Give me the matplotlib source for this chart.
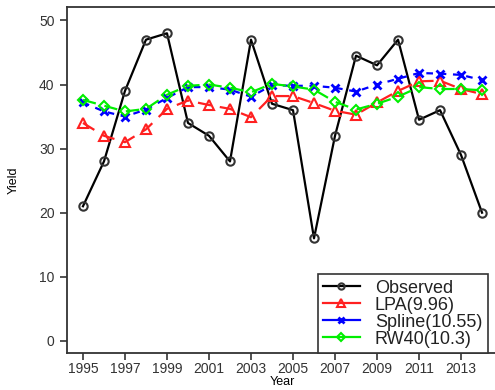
import numpy as np
import matplotlib.pyplot as plt
from matplotlib.lines import Line2D

plt.rcParams['font.family'] = ['Liberation Sans', 'DejaVu Sans']

# --- data ---
years = list(range(1995, 2015))
observed = [21, 28, 39, 47, 48, 34, 32, 28, 47, 37, 36, 16, 32, 44.5, 43, 47, 34.5, 36, 29, 20]
lpa = [34, 32, 31, 33, 36.2, 37.5, 36.8, 36.2, 34.9, 38.2, 38.2, 37.1, 35.9, 35.3, 37.2, 39, 40.5, 40.6, 39.3, 38.5]
spline = [37.2, 35.8, 35.0, 36.1, 37.9, 39.6, 39.6, 39.2, 38.1, 39.9, 39.8, 39.8, 39.5, 38.9, 40.0, 40.9, 41.8, 41.7, 41.5, 40.7]
rw40 = [37.6, 36.7, 35.8, 36.2, 38.4, 39.8, 40.0, 39.5, 38.8, 40.1, 39.7, 39.2, 37.3, 36.1, 37.0, 38.1, 39.6, 39.3, 39.3, 39.1]
labels = ['Observed', 'LPA(9.96)', 'Spline(10.55)', 'RW40(10.3)']
xtick_years = list(range(1995, 2014, 2))
ytick_vals = [0, 10, 20, 30, 40, 50]

W, H = 495, 390
fig = plt.figure(figsize=(W / 100, H / 100), dpi=100)
# axes run a bit past the right edge (reference is cropped)
ax = fig.add_axes([67 / W, 37 / H, 431 / W, 346 / H])

lw = 1.6
ms = 6
ax.plot(years, observed, color='black', lw=lw, marker='o', ms=ms, mfc='none', mew=1.5, mec='#333333')
ax.plot(years, lpa, color='#ff2020', lw=lw, dashes=(6, 4), marker='^', ms=ms + 1, mfc='none', mew=1.5)
ax.plot(years, spline, color='#0000ff', lw=lw, dashes=(3, 3), marker='x', ms=ms, mew=2)
ax.plot(years, rw40, color='#00ee00', lw=lw, dashes=(6, 4), marker='D', ms=ms - 0.5, mfc='none', mew=1.5)

ax.set_xlim(1994.24, 2014.76)
ax.set_ylim(-1.9, 52.1)
ax.set_xticks(xtick_years)
ax.set_yticks(ytick_vals)
ax.tick_params(direction='out', length=5, width=1.2, labelsize=10, labelcolor='#333333',
               color='#333333', pad=1.5)
ax.tick_params(axis='y', pad=4)
for s in ax.spines.values():
    s.set_color('#333333')
    s.set_linewidth(1.3)

ax.set_xlabel('Year', fontsize=9, labelpad=0)
ax.set_ylabel('Yield', fontsize=9, labelpad=14)

handles = [
    Line2D([], [], color='black', lw=lw, marker='o', ms=ms - 1.5, mfc='none', mew=1.5, mec='#333333'),
    Line2D([], [], color='#ff2020', lw=lw, marker='^', ms=ms - 0.5, mfc='none', mew=1.5),
    Line2D([], [], color='#0000ff', lw=lw, marker='x', ms=ms - 1.5, mew=2),
    Line2D([], [], color='#00ee00', lw=lw, marker='D', ms=ms - 2, mfc='none', mew=1.5),
]
leg = ax.legend(handles, labels, loc='lower left', bbox_to_anchor=(318 / W, 37 / H),
                bbox_transform=fig.transFigure, borderaxespad=0, fontsize=13,
                frameon=True, fancybox=False, edgecolor='#333333', framealpha=1,
                handlelength=2.0, handletextpad=0.85, labelspacing=0.0, borderpad=0.3)
leg.get_frame().set_linewidth(1.2)
for t in leg.get_texts():
    t.set_color('#222222')

fig.savefig('out.png', dpi=100)
